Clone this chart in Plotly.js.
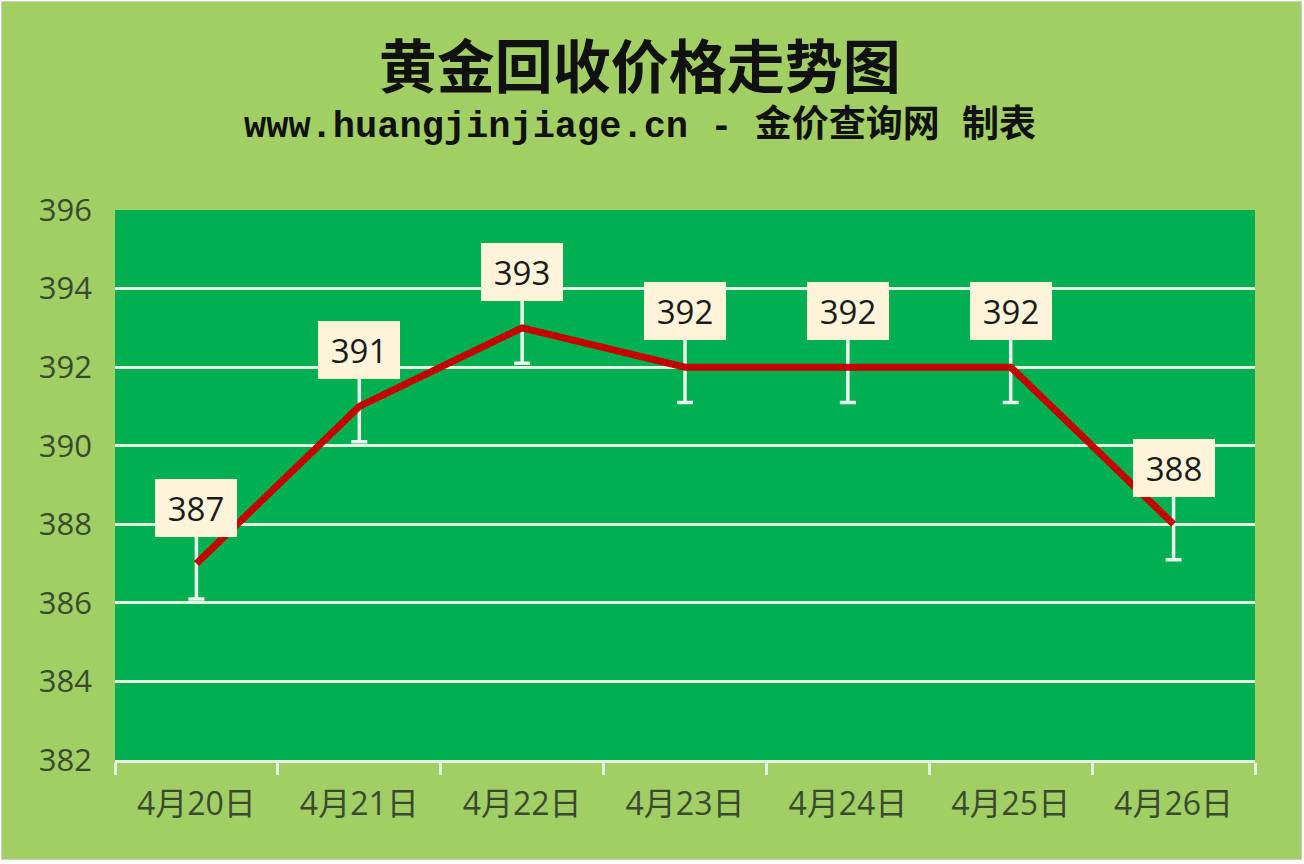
<!DOCTYPE html>
<html>
<head>
<meta charset="utf-8">
<script src="https://cdn.plot.ly/plotly-3.0.1.min.js"></script>
<style>
html,body{margin:0;padding:0;background:#ffffff;}
#wrap{position:absolute;left:1px;top:1px;width:1299px;height:857px;border:1px solid #c9cfc4;}
#chart{width:1299px;height:857px;}
</style>
</head>
<body>
<div id="wrap"><div id="chart"></div></div>
<script>
// Data
const categories = ['4月20日','4月21日','4月22日','4月23日','4月24日','4月25日','4月26日'];
const prices = [387, 391, 393, 392, 392, 392, 388];
const errorSize = [0.9, 0.9, 0.9, 0.9, 0.9, 0.9, 0.9];
const yTicks = [382, 384, 386, 388, 390, 392, 394, 396];
const titleText = '黄金回收价格走势图';
const subtitleText = 'www.huangjinjiage.cn - 金价查询网 制表';

const bgOuter = '#a1cf63';
const bgPlot = '#00b050';
const gridCol = '#e4f4e2';
const tickFont = {family: '"Open Sans", "Noto Sans CJK SC", sans-serif', size: 31, color: '#3a4a30'};
const xTickFont = {family: '"Open Sans", "Noto Sans CJK SC", sans-serif', size: 32, color: '#3a4a30'};

const traces = [
  {
    type: 'scatter', mode: 'markers', x: categories, y: prices,
    marker: {size: 1, color: 'rgba(0,0,0,0)'},
    error_y: {type: 'data', array: errorSize, visible: true, color: '#e8f6ee', thickness: 3.5, width: 8},
    hoverinfo: 'skip', showlegend: false
  },
  {
    type: 'scatter', mode: 'lines', x: categories, y: prices,
    line: {color: '#c40000', width: 7, shape: 'linear'},
    hoverinfo: 'skip', showlegend: false
  }
];

const annotations = categories.map((c, i) => ({
  x: c, y: prices[i], xref: 'x', yref: 'y',
  text: String(prices[i]), showarrow: false,
  yshift: 56, bgcolor: '#fdf4da', width: 76, height: 52, borderpad: 3, borderwidth: 0,
  font: {family: '"Open Sans", sans-serif', size: 33, color: '#1a1a1a'}
}));
annotations.push({
  xref: 'paper', yref: 'paper', x: 0.4605, y: 1.1527, xanchor: 'center', yanchor: 'middle',
  text: '<b>' + subtitleText + '</b>', showarrow: false,
  font: {family: '"Liberation Mono", "Noto Sans CJK SC", monospace', size: 37, color: '#111111'}
});

const layout = {
  width: 1299, height: 857,
  paper_bgcolor: bgOuter, plot_bgcolor: bgPlot,
  margin: {l: 113, r: 46, t: 208, b: 99},
  title: {
    text: '<b>' + titleText + '</b>', xref: 'container', yref: 'container',
    x: 0.491, y: 0.923, xanchor: 'center', yanchor: 'middle',
    font: {family: '"Noto Sans CJK SC", sans-serif', size: 58, color: '#111111'}
  },
  xaxis: {
    type: 'category', range: [-0.5, 6.5], fixedrange: true,
    showline: true, linecolor: gridCol, linewidth: 3,
    ticks: 'outside', tickson: 'boundaries', ticklen: 12, tickwidth: 3, tickcolor: gridCol,
    showgrid: false, tickfont: xTickFont, ticklabelstandoff: 14
  },
  yaxis: {
    range: [382, 396], tickvals: yTicks, fixedrange: true,
    showgrid: true, gridcolor: gridCol, gridwidth: 3, zeroline: false,
    showline: false, ticks: '', tickfont: tickFont, ticklabelstandoff: 22
  },
  annotations: annotations,
  hovermode: false, showlegend: false
};

Plotly.newPlot('chart', traces, layout, {displayModeBar: false, staticPlot: true});
</script>
</body>
</html>
